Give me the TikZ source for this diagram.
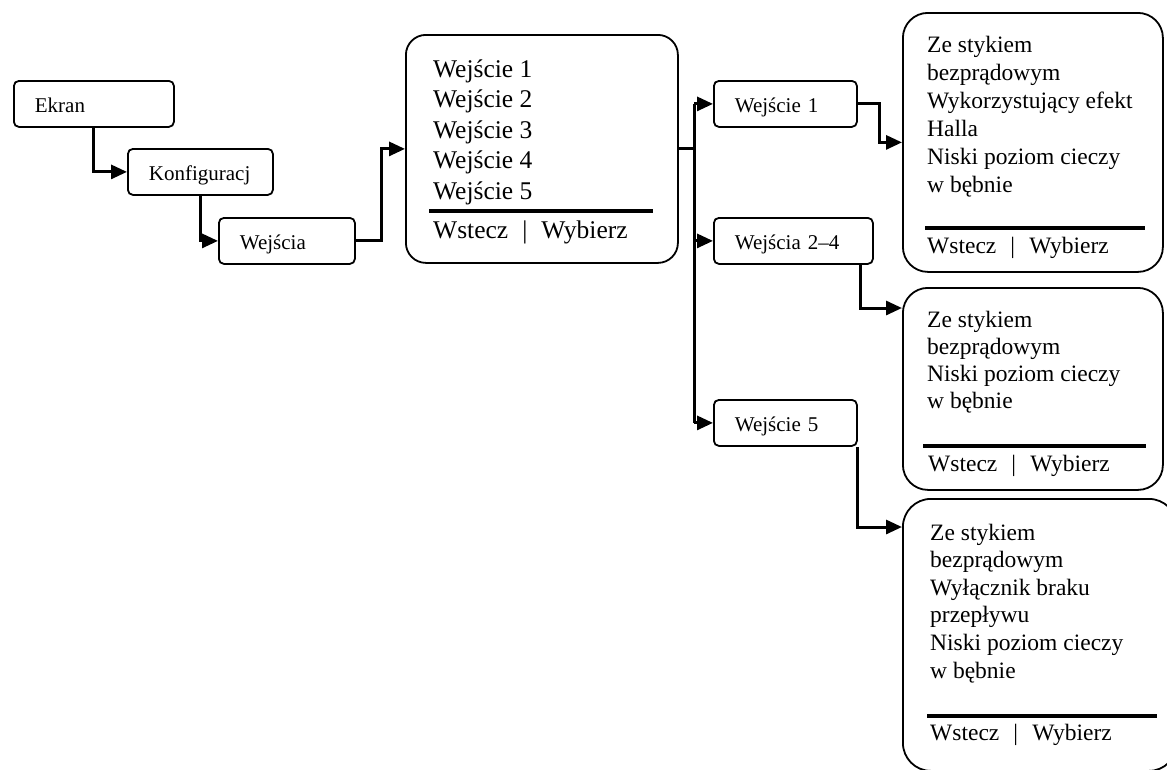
\documentclass[tikz,border=0pt]{standalone}
\usepackage{fontspec}
\setmainfont{Liberation Serif}
\usetikzlibrary{arrows.meta,calc}
\begin{document}
\begin{tikzpicture}[x=1pt,y=-1pt,
  smallbox/.style={draw, line width=1.8pt, rounded corners=5pt, anchor=north west,
    minimum height=46pt, inner xsep=21pt, inner ysep=0pt, align=left,
    font=\fontsize{21}{25}\selectfont, text height=19pt, text depth=2pt},
  bigbox/.style={draw, line width=1.8pt, anchor=north west, inner sep=0pt},
  midtext/.style={anchor=base west, inner sep=0pt, font=\fontsize{25.5}{30}\selectfont},
  righttext/.style={anchor=base west, inner sep=0pt, font=\fontsize{23.5}{28}\selectfont},
  rule/.style={line width=3.8pt},
  trunkline/.style={line width=3pt},
  conn/.style={line width=3pt, -{Triangle[length=16pt,width=14pt]}},
]
\useasboundingbox (0,0) rectangle (1167,769);

% left chain
\node[smallbox, text width=118pt] (ekran) at (13,80) {Ekran};
\node[smallbox, text width=103pt] (konf) at (127,148) {Konfiguracj};
\node[smallbox, text width=94pt] (wejscia) at (218,217) {Wejścia};

% middle box
\node[bigbox, rounded corners=20pt, minimum width=272pt, minimum height=228pt] (mid) at (405,34) {};
\foreach \t [count=\i] in {1,2,3,4,5}
  \node[midtext] (m\i) at (433,{77+30.5*(\i-1)}) {Wejście \t};
\draw[rule] (429,211) -- (653,211);
\node[midtext] (mback) at (433,238) {Wstecz\hspace{0.55em}|\hspace{0.55em}Wybierz};

% small right boxes
\node[smallbox, text width=101pt] (w1) at (713,80) {Wejście 1};
\node[smallbox, text width=117pt] (w24) at (713,217) {Wejścia 2–4};
\node[smallbox, text width=101pt] (w5) at (713,399) {Wejście 5};

% right box 1
\node[bigbox, rounded corners=25pt, minimum width=260pt, minimum height=259pt] (b1) at (902,12) {};
\foreach \t [count=\i] in {Ze stykiem, bezprądowym, Wykorzystujący efekt, Halla, Niski poziom cieczy, w bębnie}
  \node[righttext] (ba\i) at (927,{52+28*(\i-1)}) {\t};
\draw[rule] (925,228) -- (1145,228);
\node[righttext] (baback) at (927,253) {Wstecz\hspace{0.6em}|\hspace{0.6em}Wybierz};

% right box 2
\node[bigbox, rounded corners=25pt, minimum width=260pt, minimum height=202pt] (b2) at (902,287) {};
\foreach \t [count=\i] in {Ze stykiem, bezprądowym, Niski poziom cieczy, w bębnie}
  \node[righttext] (bb\i) at (927,{327+27*(\i-1)}) {\t};
\draw[rule] (923,446) -- (1146,446);
\node[righttext] (bbback) at (928,471) {Wstecz\hspace{0.6em}|\hspace{0.6em}Wybierz};

% right box 3
\node[bigbox, rounded corners=28pt, minimum width=274pt, minimum height=272pt] (b3) at (902,498) {};
\foreach \t [count=\i] in {Ze stykiem, bezprądowym, Wyłącznik braku, przepływu, Niski poziom cieczy, w bębnie}
  \node[righttext] (bc\i) at (930,{540+27.6*(\i-1)}) {\t};
\draw[rule] (927,716) -- (1157,716);
\node[righttext] (bcback) at (930,740) {Wstecz\hspace{0.6em}|\hspace{0.6em}Wybierz};

% connectors
\draw[conn] (ekran.south) |- (konf.west);
\draw[conn] (konf.south) |- (wejscia.west);
\draw[conn] (wejscia.east) -- ++(26,0) |- (mid.west);

\coordinate (trunk) at (694,148);
\draw[trunkline] (mid.east) -- (trunk |- mid.east);
\draw[trunkline] (trunk |- w1.west) -- (trunk |- w5.west);
\draw[conn] (trunk |- w1.west) -- (w1.west);
\draw[conn] (trunk |- w24.west) -- (w24.west);
\draw[conn] (trunk |- w5.west) -- (w5.west);

\draw[conn] (w1.east) -- ++(22,0) |- (b1.west);
\draw[conn] ($(w24.south east)+(-13,0)$) |- ($(b2.north west)+(0,21)$);
\draw[conn] (w5.south east) |- ($(b3.north west)+(0,29)$);
\end{tikzpicture}
\end{document}
